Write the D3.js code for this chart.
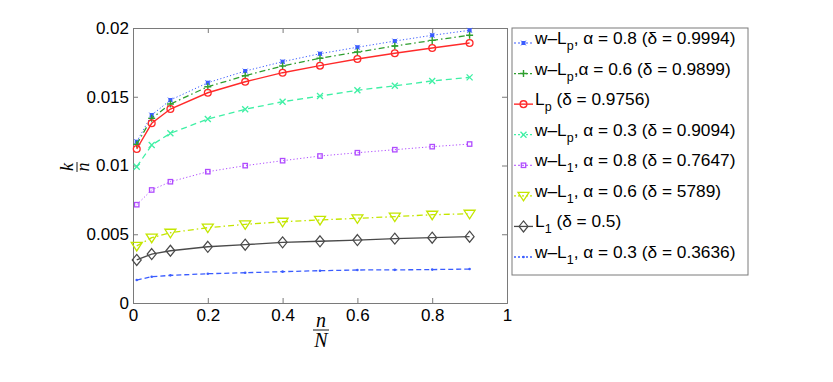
<!DOCTYPE html>
<html>
<head>
<meta charset="utf-8">
<script src="https://cdn.jsdelivr.net/npm/d3@7"></script>
<style>
  body { margin: 0; background: #fff; }
  svg { display: block; font-family: "Liberation Sans", Arial, Helvetica, sans-serif; }
  .axis line, .axis path { stroke: #7a7a7a; }
  .tick text { fill: #000; font-size: 17px; }
  .math { font-family: "Liberation Serif", "DejaVu Serif", serif; font-style: italic; }
</style>
</head>
<body>
<svg width="833" height="382"></svg>
<script>
// n/N sample points
const xs = [0.01, 0.05, 0.1, 0.2, 0.3, 0.4, 0.5, 0.6, 0.7, 0.8, 0.9];

// k/n for each method
const wLp08 = [0.01173, 0.01367, 0.01476, 0.01602, 0.01687, 0.01755, 0.01813, 0.0186, 0.01905, 0.01947, 0.01983];
const wLp06 = [0.01154, 0.01343, 0.01447, 0.01573, 0.01653, 0.01724, 0.0178, 0.01825, 0.01869, 0.0191, 0.01947];
const Lp    = [0.0112, 0.01307, 0.01411, 0.01529, 0.01609, 0.01675, 0.01726, 0.01775, 0.01816, 0.01855, 0.01891];
const wLp03 = [0.00991, 0.01149, 0.01234, 0.01338, 0.01409, 0.01464, 0.01505, 0.01547, 0.0158, 0.01615, 0.01641];
const wL108 = [0.00715, 0.00822, 0.00882, 0.00955, 0.00999, 0.01035, 0.01069, 0.01093, 0.01115, 0.01137, 0.01156];
const wL106 = [0.00415, 0.00475, 0.00511, 0.00548, 0.00572, 0.00591, 0.00604, 0.00616, 0.00628, 0.00642, 0.00649];
const L1    = [0.00313, 0.00356, 0.0038, 0.00409, 0.00424, 0.00441, 0.00449, 0.00458, 0.00468, 0.00475, 0.00482];
const wL103 = [0.00167, 0.00191, 0.00201, 0.00213, 0.0022, 0.00228, 0.00235, 0.0024, 0.00241, 0.00243, 0.00247];

// legend text: [base, subscript, rest]
const labels = [
  ["w\u2013L", "p", ", \u03b1 = 0.8 (\u03b4 = 0.9994)"],
  ["w\u2013L", "p", ",\u03b1 = 0.6 (\u03b4 = 0.9899)"],
  ["L", "p", " (\u03b4 = 0.9756)"],
  ["w\u2013L", "p", ", \u03b1 = 0.3 (\u03b4 = 0.9094)"],
  ["w\u2013L", "1", ", \u03b1 = 0.8 (\u03b4 = 0.7647)"],
  ["w\u2013L", "1", ", \u03b1 = 0.6 (\u03b4 = 5789)"],
  ["L", "1", " (\u03b4 = 0.5)"],
  ["w\u2013L", "1", ", \u03b1 = 0.3 (\u03b4 = 0.3636)"]
];

const xTicks = [0, 0.2, 0.4, 0.6, 0.8, 1];
const yTicks = [0, 0.005, 0.01, 0.015, 0.02];

const series = [
  { values: wLp08, color: "#3a5cff", dash: "1.2,2.2", width: 1, marker: "dot4" },
  { values: wLp06, color: "#2f9f2f", dash: "6,3,1.5,3", width: 1.3, marker: "plus" },
  { values: Lp,    color: "#ff2a2a", dash: null, width: 1.4, marker: "circle" },
  { values: wLp03, color: "#3ff0a5", dash: "6,4", width: 1.3, marker: "cross" },
  { values: wL108, color: "#b04cff", dash: "1.2,2.2", width: 1, marker: "square" },
  { values: wL106, color: "#c4e600", dash: "6,3,1.5,3", width: 1.3, marker: "tri" },
  { values: L1,    color: "#4a4a4a", dash: null, width: 1.3, marker: "diamond" },
  { values: wL103, color: "#3a5cff", dash: "5,3", width: 1.3, marker: "point" }
];

const plotLeft = 133, plotRight = 507, plotTop = 28, plotBottom = 303;

const svg = d3.select("svg");

const x = d3.scaleLinear().domain([0, 1]).range([plotLeft, plotRight]);
const y = d3.scaleLinear().domain([0, 0.02]).range([plotBottom, plotTop]);

// axes, ticks pointing inward, box on all sides
svg.append("g")
  .attr("class", "axis")
  .attr("transform", "translate(0," + plotBottom + ")")
  .call(d3.axisBottom(x).tickValues(xTicks).tickSize(-5).tickPadding(6).tickFormat(d3.format("")));

svg.append("g")
  .attr("class", "axis")
  .attr("transform", "translate(0," + plotTop + ")")
  .call(d3.axisTop(x).tickValues(xTicks).tickSize(-5).tickFormat(""));

svg.append("g")
  .attr("class", "axis")
  .attr("transform", "translate(" + plotLeft + ",0)")
  .call(d3.axisLeft(y).tickValues(yTicks).tickSize(-5).tickPadding(4).tickFormat(d3.format("")));

svg.append("g")
  .attr("class", "axis")
  .attr("transform", "translate(" + plotRight + ",0)")
  .call(d3.axisRight(y).tickValues(yTicks).tickSize(-5).tickFormat(""));

svg.selectAll(".domain").attr("stroke", "#7a7a7a");

// axis labels (fractions)
const ylab = svg.append("g")
  .attr("transform", "translate(77,167) rotate(-90)");
ylab.append("text").attr("class", "math").attr("text-anchor", "middle")
  .attr("y", -4).attr("font-size", 18).text("k");
ylab.append("line").attr("x1", -5).attr("x2", 5).attr("y1", 0).attr("y2", 0)
  .attr("stroke", "#000").attr("stroke-width", 0.9);
ylab.append("text").attr("class", "math").attr("text-anchor", "middle")
  .attr("y", 12).attr("font-size", 18).text("n");

const xlab = svg.append("g").attr("transform", "translate(321,330)");
xlab.append("text").attr("class", "math").attr("text-anchor", "middle")
  .attr("y", -3).attr("font-size", 20).text("n");
xlab.append("line").attr("x1", -8).attr("x2", 8).attr("y1", 0).attr("y2", 0)
  .attr("stroke", "#000").attr("stroke-width", 0.9);
xlab.append("text").attr("class", "math").attr("text-anchor", "middle")
  .attr("y", 17).attr("font-size", 20).text("N");

// marker drawing
function drawMarker(g, type, color) {
  if (type === "dot4") {
    g.append("rect").attr("x", -2).attr("y", -2).attr("width", 4).attr("height", 4)
      .attr("fill", color);
    g.append("path").attr("d", "M-2.5,-2.5L2.5,2.5M-2.5,2.5L2.5,-2.5")
      .attr("stroke", color).attr("stroke-width", 0.8);
  } else if (type === "plus") {
    g.append("path").attr("d", "M-3.5,0H3.5M0,-3.5V3.5")
      .attr("stroke", color).attr("stroke-width", 1.4).attr("fill", "none");
  } else if (type === "circle") {
    g.append("circle").attr("r", 3.4).attr("fill", "none")
      .attr("stroke", color).attr("stroke-width", 1.3);
  } else if (type === "cross") {
    g.append("path").attr("d", "M-3,-3L3,3M-3,3L3,-3")
      .attr("stroke", color).attr("stroke-width", 1.3).attr("fill", "none");
  } else if (type === "square") {
    g.append("rect").attr("x", -2.2).attr("y", -2.2).attr("width", 4.4).attr("height", 4.4)
      .attr("fill", "none").attr("stroke", color).attr("stroke-width", 1.3);
  } else if (type === "tri") {
    g.append("path").attr("d", "M-5.5,-3.5L5.5,-3.5L0,5Z")
      .attr("fill", "none").attr("stroke", color).attr("stroke-width", 1.3);
  } else if (type === "diamond") {
    g.append("path").attr("d", "M0,-5.5L4.5,0L0,5.5L-4.5,0Z")
      .attr("fill", "none").attr("stroke", color).attr("stroke-width", 1.2);
  } else if (type === "point") {
    g.append("circle").attr("r", 1.3).attr("fill", color);
  }
}

const line = d3.line()
  .x(function(d, i) { return x(xs[i]); })
  .y(function(d) { return y(d); });

const plot = svg.append("g").attr("class", "plot");

series.forEach(function(s) {
  plot.append("path")
    .datum(s.values)
    .attr("d", line)
    .attr("fill", "none")
    .attr("stroke", s.color)
    .attr("stroke-width", s.width)
    .attr("stroke-dasharray", s.dash);

  plot.selectAll(null)
    .data(s.values)
    .enter().append("g")
    .attr("transform", function(d, i) { return "translate(" + x(xs[i]) + "," + y(d) + ")"; })
    .each(function() { drawMarker(d3.select(this), s.marker, s.color); });
});

// legend
const legend = svg.append("g").attr("class", "legend");
legend.append("rect")
  .attr("x", 512).attr("y", 28).attr("width", 236).attr("height", 247)
  .attr("fill", "#fff").attr("stroke", "#7a7a7a").attr("stroke-width", 1);

const rowY = d3.scaleLinear().domain([0, 7]).range([43, 257]);

const rows = legend.selectAll(".row")
  .data(series)
  .enter().append("g")
  .attr("class", "row")
  .attr("transform", function(d, i) { return "translate(0," + rowY(i) + ")"; });

rows.append("line")
  .attr("x1", 514).attr("x2", 533).attr("y1", 0).attr("y2", 0)
  .attr("stroke", function(d) { return d.color; })
  .attr("stroke-width", function(d) { return d.width; })
  .attr("stroke-dasharray", function(d) { return d.dash ? "2,2" : null; });

rows.append("g")
  .attr("transform", "translate(523.5,0)")
  .each(function(d) { drawMarker(d3.select(this), d.marker, d.color); });

const txt = rows.append("text")
  .attr("x", 535).attr("y", 1)
  .attr("font-size", 17.3)
  .attr("fill", "#000");

txt.append("tspan").text(function(d, i) { return labels[i][0]; });
txt.append("tspan").attr("dy", 6).attr("font-size", 12.5).text(function(d, i) { return labels[i][1]; });
txt.append("tspan").attr("dy", -6).text(function(d, i) { return labels[i][2]; });
</script>
</body>
</html>
